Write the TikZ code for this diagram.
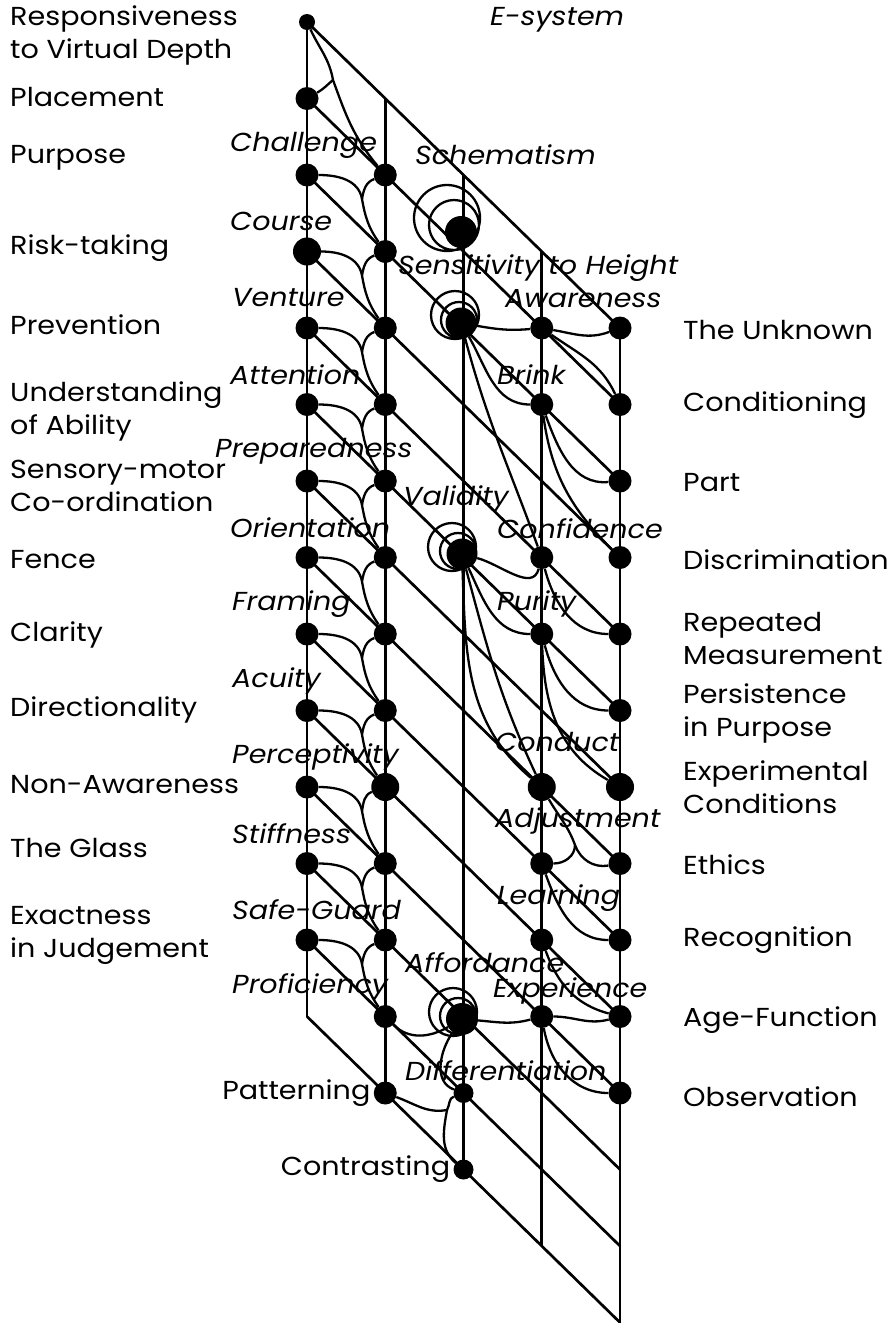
\documentclass[tikz,border=0pt]{standalone}
\usepackage{xcolor}
\usepackage{tikz}
\usepackage{fontspec}
\setmainfont{Poppins}[FakeStretch=1.1]
\usetikzlibrary{positioning}

\tikzset{
    grid line/.style = {line width=2.7pt},
    link/.style = {line width=2.3pt},
    dot/.style = {circle, fill, inner sep=0pt, minimum size=23pt},
    big dot/.style = {dot, minimum size=28pt},
    eye/.style = {dot, minimum size=32pt},
    lab/.style = {inner sep=0pt, align=left, font=\fontsize{26}{33}\selectfont},
    slant/.style = {inner sep=0pt, font=\fontsize{26}{30}\selectfont\itshape}
}

\begin{document}
\begin{tikzpicture}[x=1pt, y=-1pt]
    \useasboundingbox (0,0) rectangle (894,1323);

    \foreach \u in {0,...,4}
        \foreach \v in {0,...,13}
            \coordinate (g\u-\v) at ({307+78.25*\u},{22+76.5*(\u+\v)});

    \foreach \u in {0,...,4}
        \draw[grid line] (g\u-0) -- (g\u-13);
    \foreach \v in {0,...,13}
        \draw[grid line] (g0-\v) -- (g4-\v);

    \node (a0) [dot, minimum size=16pt] at (g0-0) {};
    \foreach \v in {1,...,12}
        \node (a\v) [dot] at (g0-\v) {};
    \foreach \v in {1,...,13}
        \node (b\v) [dot] at (g1-\v) {};
    \foreach \v in {1,2,4,5,7,8,9,10}
        \node (d\v) [dot] at (g3-\v) {};
    \foreach \v in {0,...,10}
        \node (e\v) [dot] at (g4-\v) {};
    \node (a3) [big dot] at (g0-3) {};
    \node (b9) [big dot] at (g1-9) {};
    \node (d7) [big dot] at (g3-7) {};
    \node (e6) [big dot] at (g4-6) {};

    \node (c1) [eye] at (461,232) {};
    \node (c2) [eye, minimum size=31pt] at (461,323) {};
    \node (c5) [eye, minimum size=31pt] at (462,554) {};
    \node (c11) [eye] at (462,1019) {};
    \node (c12) [dot, minimum size=20pt] at (g2-12) {};
    \node (c13) [dot, minimum size=20pt] at (g2-13) {};

    \draw[link] (c1) ++(-14,-14) circle (33pt) (c1) ++(-7,-7) circle (25pt);
    \draw[link] (c2) ++(-6,-8) circle (24pt) (c2) ++(-2,-3) circle (18pt);
    \draw[link] (c5) ++(-10,-7) circle (24pt) (c5) ++(-4,-3) circle (18pt);
    \draw[link] (c11) ++(-9,-7) circle (24pt) (c11) ++(-4,-3) circle (18pt);

    \coordinate (j1) at (333,80);
    \draw[link] (a0) to[out=-65,in=100] (j1) to[out=-70,in=130] (b1);
    \draw[link] (a1) to[out=30,in=220] (j1);
    \foreach \v [evaluate=\v as \w using int(\v-1)] in {2,...,12} {
        \coordinate (j\v) at (362,{22+76.5*\v+24});
        \draw[link] (a\v) to[out=0,in=100] (j\v) to[out=-80,in=125] (b\v);
        \draw[link] (b\w) to[out=200,in=80] (j\v);
    }

    \draw[link] (b12) to[out=-45,in=210] (c11);
    \coordinate (jp) at (447,1110);
    \draw[link] (b13) to[out=-20,in=190] (jp) to[out=60,in=200] (c12);
    \draw[link] (jp) to[out=-100,in=140] (c13);
    \draw[link] (c11) to[out=235,in=160] (c12);

    \draw[link] (c2) to[out=-10,in=185] (d1) to[out=-10,in=200] (e0);
    \draw[link] (c2) to[out=-60,in=180] (d2);
    \draw[link] (c2) to[out=-75,in=110] (d4);
    \draw[link] (d1) to[out=-35,in=115] (e1);
    \draw[link] (d2) to[out=-70,in=185] (e2);
    \draw[link] (d2) to[out=-82,in=135] (e3);
    \draw[link] (c5) to[out=-15,in=-105] (d4);
    \draw[link] (c5) to[out=-65,in=180] (d5);
    \draw[link] (c5) to[out=-75,in=115] (d7);
    \draw[link] (c5) to[out=-88,in=140] (d7);
    \draw[link] (d4) to[out=-75,in=180] (e4);
    \draw[link] (d5) to[out=-75,in=180] (e5);
    \draw[link] (d5) to[out=-88,in=150] (e6);
    \coordinate (jd) at (575,845);
    \draw[link] (d7) to[out=-60,in=110] (jd) to[out=-70,in=190] (e7);
    \draw[link] (d8) to[out=0,in=-90] (jd);
    \draw[link] (d8) to[out=-70,in=180] (e8);
    \draw[link] (d9) to[out=-70,in=165] (e9);
    \draw[link] (d10) to[out=0,in=195] (e9);
    \draw[link] (d10) to[out=-80,in=180] (e10);
    \draw[link] (c11) to[out=-5,in=195] (d10);

    \foreach \v/\txt/\y in {0/{Responsiveness\\to Virtual Depth}/35, 1/Placement/97,
            2/Purpose/158, 3/Risk-taking/248, 4/Prevention/325,
            5/{Understanding\\of Ability}/411, 6/{Sensory-motor\\Co-ordination}/486,
            7/Fence/560, 8/Clarity/635, 9/Directionality/710, 10/Non-Awareness/785,
            11/The Glass/848, 12/{Exactness\\in Judgement}/935}
        \node (l\v) [lab, anchor=west] at (10,\y) {\txt};

    \foreach \v/\txt/\y in {0/The Unknown/330, 1/Conditioning/405, 2/Part/483,
            3/Discrimination/560, 4/{Repeated\\Measurement}/638,
            5/{Persistence\\in Purpose}/713, 6/{Experimental\\Conditions}/787,
            7/Ethics/865, 8/Recognition/940, 9/Age-Function/1020, 10/Observation/1097}
        \node (r\v) [lab, anchor=west] at (683,\y) {\txt};

    \foreach \v/\txt/\x in {1/Challenge/230, 2/Course/230, 3/Venture/232, 4/Attention/230,
            5/Preparedness/215, 6/Orientation/230, 7/Framing/232, 8/Acuity/232,
            9/Perceptivity/232, 10/Stiffness/232, 11/Safe-Guard/232, 12/Proficiency/232}
        \node (s\v) [slant, anchor=west] at (\x,{22+76.5*(\v+1)-30}) {\txt};

    \node (t0) [slant, anchor=west] at (490,20) {E-system};
    \node (t1) [slant, anchor=west] at (415,155) {Schematism};
    \node (t2) [slant, anchor=west] at (398,268) {Sensitivity to Height};
    \node (t3) [slant, anchor=west] at (505,299) {Awareness};
    \node (t4) [slant, anchor=west] at (497,375) {Brink};
    \node (t5) [slant, anchor=west] at (403,499) {Validity};
    \node (t6) [slant, anchor=west] at (497,529) {Confidence};
    \node (t7) [slant, anchor=west] at (497,604) {Purity};
    \node (t8) [slant, anchor=west] at (495,742) {Conduct};
    \node (t9) [slant, anchor=west] at (495,821) {Adjustment};
    \node (t10) [slant, anchor=west] at (497,898) {Learning};
    \node (t11) [slant, anchor=west] at (405,963) {Affordance};
    \node (t12) [slant, anchor=west] at (493,991) {Experience};
    \node (t13) [slant, anchor=west] at (405,1071) {Differentiation};

    \node (p1) [lab, left=3pt of b13] {Patterning};
    \node (p2) [lab, left=3pt of c13] {Contrasting};
\end{tikzpicture}
\end{document}
